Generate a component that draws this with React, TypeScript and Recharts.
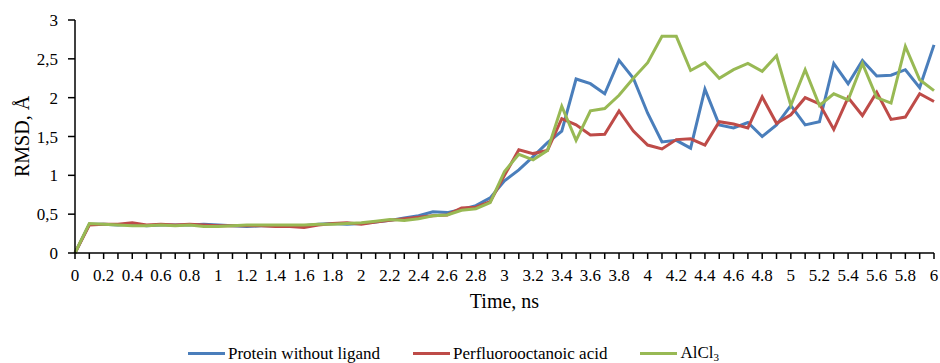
import React from 'react';
import { LineChart, Line, XAxis, YAxis, Legend } from 'recharts';

// time, ns (one point every 0.1 ns)
const times = [
  0, 0.1, 0.2, 0.3, 0.4, 0.5, 0.6, 0.7, 0.8, 0.9,
  1, 1.1, 1.2, 1.3, 1.4, 1.5, 1.6, 1.7, 1.8, 1.9,
  2, 2.1, 2.2, 2.3, 2.4, 2.5, 2.6, 2.7, 2.8, 2.9,
  3, 3.1, 3.2, 3.3, 3.4, 3.5, 3.6, 3.7, 3.8, 3.9,
  4, 4.1, 4.2, 4.3, 4.4, 4.5, 4.6, 4.7, 4.8, 4.9,
  5, 5.1, 5.2, 5.3, 5.4, 5.5, 5.6, 5.7, 5.8, 5.9,
  6,
];

const protein = [
  0, 0.37, 0.37, 0.36, 0.37, 0.35, 0.36, 0.36, 0.36, 0.37,
  0.36, 0.35, 0.34, 0.35, 0.35, 0.35, 0.35, 0.37, 0.38, 0.37,
  0.38, 0.4, 0.42, 0.45, 0.48, 0.53, 0.52, 0.56, 0.61, 0.71,
  0.93, 1.07, 1.24, 1.42, 1.57, 2.24, 2.18, 2.05, 2.48, 2.25,
  1.8, 1.43, 1.45, 1.35, 2.11, 1.65, 1.61, 1.68, 1.5, 1.65,
  1.9, 1.65, 1.69, 2.44, 2.18, 2.48, 2.28, 2.29, 2.36, 2.13,
  2.68,
];

const pfoa = [
  0, 0.36, 0.37, 0.37, 0.39, 0.36, 0.37, 0.36, 0.37, 0.36,
  0.35, 0.35, 0.35, 0.35, 0.34, 0.34, 0.33, 0.36, 0.38, 0.39,
  0.37, 0.4, 0.42, 0.44, 0.46, 0.48, 0.49, 0.58, 0.59, 0.66,
  1.0, 1.33, 1.28, 1.32, 1.73, 1.65, 1.52, 1.53, 1.83, 1.57,
  1.39, 1.34, 1.46, 1.47, 1.39, 1.69, 1.66, 1.61, 2.01, 1.67,
  1.78, 2.0, 1.92, 1.59, 2.0, 1.77, 2.07, 1.72, 1.75, 2.05,
  1.95,
];

const alcl3 = [
  0, 0.38, 0.37, 0.36, 0.35, 0.35, 0.36, 0.35, 0.36, 0.34,
  0.34, 0.35, 0.36, 0.36, 0.36, 0.36, 0.36, 0.37, 0.37, 0.38,
  0.39, 0.41, 0.43, 0.42, 0.44, 0.48, 0.49, 0.55, 0.57, 0.65,
  1.05, 1.27, 1.2, 1.32, 1.89, 1.45, 1.83, 1.86, 2.03, 2.25,
  2.45, 2.79, 2.79, 2.35, 2.45, 2.25, 2.36, 2.44, 2.34, 2.54,
  1.9, 2.36, 1.9, 2.05, 1.97, 2.44, 2.0, 1.93, 2.66, 2.23,
  2.09,
];

const seriesOrder = ['protein', 'pfoa', 'alcl3'];
const yTicks = [0, 0.5, 1, 1.5, 2, 2.5, 3];

const data = times.map((t, i) => ({
  t,
  protein: protein[i],
  pfoa: pfoa[i],
  alcl3: alcl3[i],
}));

const font = '"Liberation Serif", "Times New Roman", serif';

function LegendBox(props: any) {
  const items = [...(props.payload || [])].sort(
    (a: any, b: any) => seriesOrder.indexOf(a.dataKey) - seriesOrder.indexOf(b.dataKey)
  );
  return (
    <div style={{ position: 'relative', height: 50, width: 940 }}>
      <div
        style={{
          position: 'absolute',
          left: 188,
          top: 30,
          display: 'flex',
          gap: 33,
          fontFamily: font,
          fontSize: 17,
          color: '#000',
          whiteSpace: 'nowrap',
          lineHeight: '20px',
        }}
      >
        {items.map((it: any) => (
          <div key={it.dataKey} style={{ display: 'flex', alignItems: 'center' }}>
            <span style={{ display: 'inline-block', width: 37, height: 3, background: it.color, marginRight: 3 }} />
            {it.dataKey === 'alcl3' ? (
              <span>AlCl<span style={{ fontSize: 11, position: 'relative', top: 3 }}>3</span></span>
            ) : (
              it.value
            )}
          </div>
        ))}
      </div>
    </div>
  );
}

export default function App() {
  return (
    <div style={{ position: 'absolute', left: 0, top: 0, background: '#fff' }}>
      <LineChart width={940} height={363} data={data} margin={{ top: 20, right: 6, bottom: 0, left: 0 }}>
        <XAxis
          dataKey="t"
          type="category"
          interval={0}
          tickSize={6}
          tickMargin={10}
          stroke="#000"
          strokeWidth={1.5}
          height={60}
          tick={{ fill: '#000', fontSize: 17, fontFamily: font }}
          tickFormatter={(v: number, i: number) => (i % 2 === 0 ? String(v) : '')}
          label={{ value: 'Time, ns', position: 'insideBottom', offset: 5, fill: '#000', fontSize: 20, fontFamily: font }}
        />
        <YAxis
          type="number"
          domain={[0, 3]}
          ticks={yTicks}
          interval={0}
          width={75}
          tickSize={7}
          tickMargin={10}
          stroke="#000"
          strokeWidth={1.5}
          tick={{ fill: '#000', fontSize: 17, fontFamily: font }}
          tickFormatter={(v: number) => String(v).replace('.', ',')}
          label={{ value: 'RMSD, Å', angle: -90, position: 'center', dx: -16, fill: '#000', fontSize: 20, fontFamily: font }}
        />
        <Legend verticalAlign="bottom" height={50} content={LegendBox} wrapperStyle={{ left: 0, width: 940 }} />
        <Line dataKey="protein" name="Protein without ligand" stroke="#4a7ebb" strokeWidth={3} dot={false} isAnimationActive={false} />
        <Line dataKey="pfoa" name="Perfluorooctanoic acid" stroke="#be4b48" strokeWidth={3} dot={false} isAnimationActive={false} />
        <Line dataKey="alcl3" name="AlCl3" stroke="#98b954" strokeWidth={3} dot={false} isAnimationActive={false} />
      </LineChart>
    </div>
  );
}
